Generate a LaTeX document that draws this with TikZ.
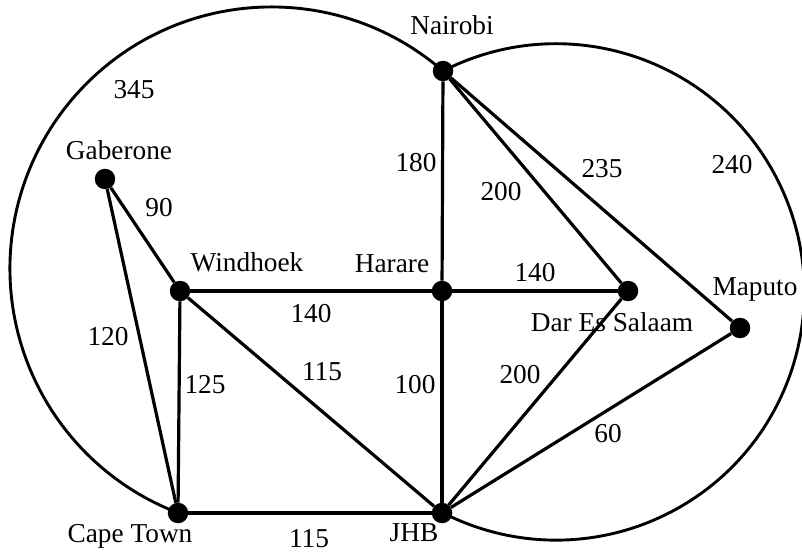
\documentclass[tikz,border=0pt]{standalone}
\usepackage{fontspec}
\setmainfont{Liberation Serif}
\begin{document}
\begin{tikzpicture}[x=1pt, y=-1pt, every node/.style={font=\fontsize{27.3}{31}\selectfont,inner sep=1pt},
  city/.style={circle,fill=black,inner sep=0pt,minimum size=20.5pt},
  road/.style={line width=3.2pt}, ring/.style={line width=2.9pt}]
  \useasboundingbox (0,0) rectangle (802,553);
  \node[city] (nai) at (443,71) {};\node[city] (gab) at (105,179) {};\node[city] (win) at (180,291) {};
  \node[city] (har) at (442,291) {};\node[city] (dar) at (628,291) {};\node[city] (map) at (740,328) {};
  \node[city] (cpt) at (178,513) {};\node[city] (jhb) at (442,513) {};
  % the two long routes round the outside
  \draw[ring] (nai.center) arc[start angle=-49.04, end angle=-249.06, radius=261.6];
  \draw[ring] (nai.center) arc[start angle=-117.1, end angle=117.3, radius=248.2];
  \draw[road] (nai) -- (har); \draw[road] (nai) -- (dar); \draw[road] (nai) -- (map);
  \draw[road] (gab) -- (win); \draw[road] (gab) -- (cpt); \draw[road] (win) -- (har); \draw[road] (har) -- (dar);
  \draw[road] (win) -- (cpt); \draw[road] (win) -- (jhb); \draw[road] (har) -- (jhb);
  \draw[road] (dar) -- (jhb); \draw[road] (map) -- (jhb); \draw[road] (cpt) -- (jhb);
  \node (lnai) at (452,25) {Nairobi};\node (lgab) at (119,150) {Gaberone};\node (lwin) at (247,262) {Windhoek};
  \node (lhar) at (392,264) {Harare};\node (ldar) at (612,322) {Dar Es Salaam};\node (lmap) at (755,289) {Maputo};
  \node (lcpt) at (130,536) {Cape Town};\node (ljhb) at (414,533) {JHB};
  \node (w345) at (134,90) {345};\node (w90) at (159,208) {90};\node (w180) at (416,163) {180};
  \node (w200a) at (501,192) {200};\node (w235) at (602,169) {235};\node (w240) at (732,165) {240};
  \node (w140a) at (535,273) {140};\node (w140b) at (311,314) {140};\node (w120) at (108,337) {120};
  \node (w125) at (205,385) {125};\node (w115a) at (322,372) {115};\node (w100) at (415,385) {100};
  \node (w200b) at (520,375) {200};\node (w60) at (608,434) {60};\node (w115b) at (309,539) {115};
\end{tikzpicture}
\end{document}
